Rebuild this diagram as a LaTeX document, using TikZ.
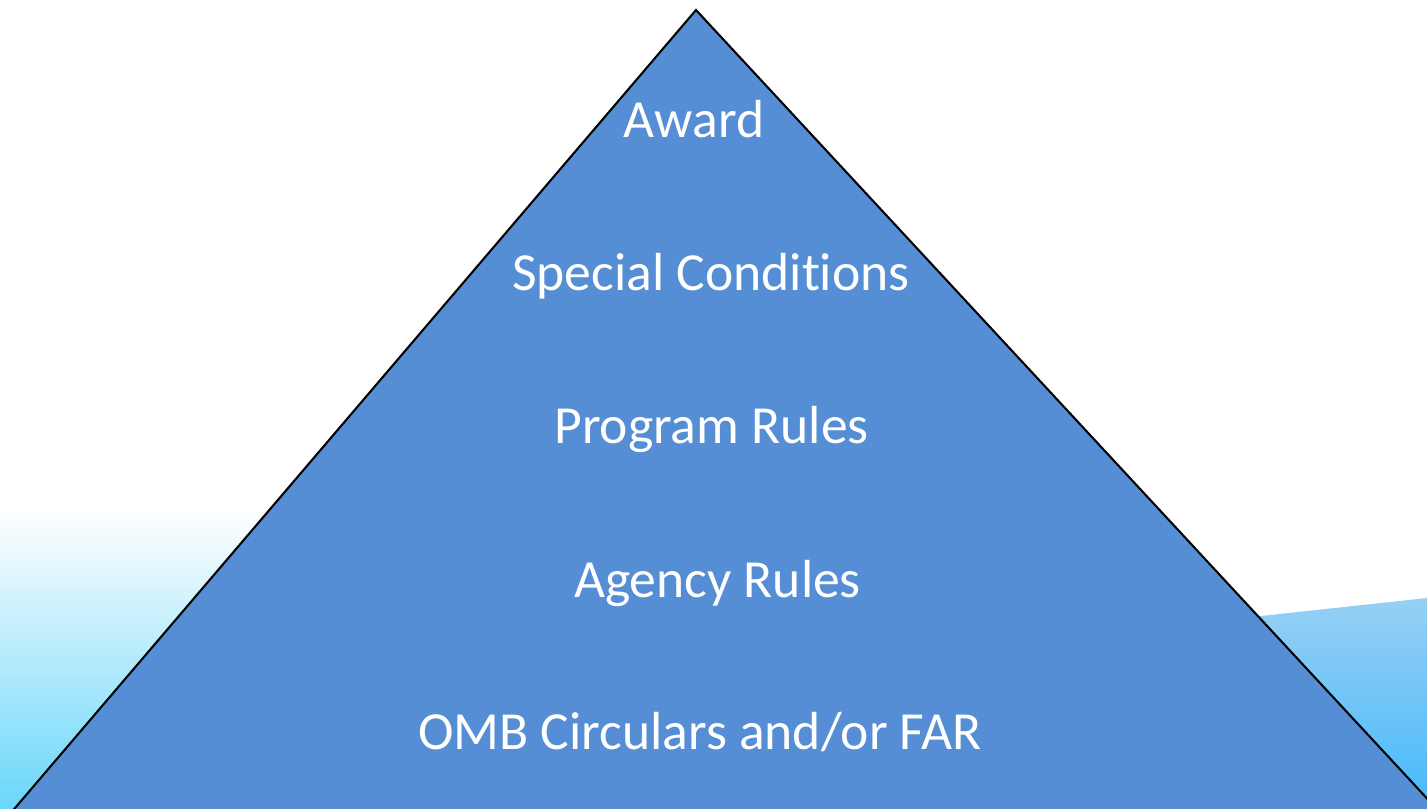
\documentclass[tikz,border=0pt]{standalone}
\usepackage{fontspec}
\setmainfont{Carlito}[Ligatures=NoCommon]
\definecolor{tri}{RGB}{85,142,213}
\definecolor{skyA}{RGB}{195,249,250}
\definecolor{skyB}{RGB}{105,214,250}
\definecolor{skyC}{RGB}{150,208,245}
\definecolor{skyD}{RGB}{70,185,250}
\tikzset{lvl/.style={text=white, font=\fontsize{40.2}{48}\selectfont, anchor=base, inner sep=0pt}}
\begin{document}
\begin{tikzpicture}[x=0.75pt,y=-0.75pt]
\useasboundingbox (0,0) rectangle (1427,808);
\clip (0,0) rectangle (1427,808);
\fill[white] (0,0) rectangle (1427,808);
\shade[top color=white, middle color=skyA, bottom color=skyB] (0,510) rectangle (700,810);
\shade[top color=skyC, bottom color=skyD] (1150,628) -- (1427,598) -- (1427,810) -- (1150,810) -- cycle;
\coordinate (apex) at (696,10);
\coordinate (bl) at (4.8,820);
\coordinate (br) at (1447,820);
\filldraw[fill=tri, draw=black, line width=1.55pt, line join=miter] (bl) -- (apex) -- (br);
\node[lvl] (award) at (694,137) {Award};
\node[lvl] (special) at (711,290) {Special Conditions};
\node[lvl] (program) at (711.5,443) {Program Rules};
\node[lvl] (agency) at (717.5,597) {Agency Rules};
\node[lvl] (omb) at (700,749) {OMB Circulars and/or FAR};
\end{tikzpicture}
\end{document}
